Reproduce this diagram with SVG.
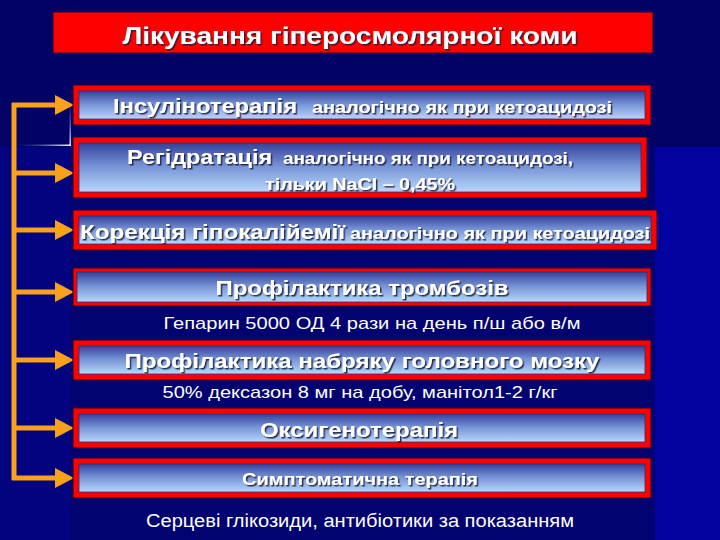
<svg xmlns="http://www.w3.org/2000/svg" width="720" height="540" viewBox="0 0 720 540">
<defs>
<linearGradient id="g" x1="0" y1="0" x2="0" y2="1">
<stop offset="0" stop-color="#34409c"/>
<stop offset="0.45" stop-color="#7390d4"/>
<stop offset="1" stop-color="#b8d6fc"/>
</linearGradient>
<linearGradient id="hl" x1="0" y1="0" x2="1" y2="0">
<stop offset="0" stop-color="#3050c0" stop-opacity="0"/>
<stop offset="1" stop-color="#ffffff"/>
</linearGradient>
<linearGradient id="vl" x1="0" y1="0" x2="0" y2="1">
<stop offset="0" stop-color="#3050c0" stop-opacity="0"/>
<stop offset="1" stop-color="#e0e8ff"/>
</linearGradient>
<filter id="sh" x="-5%" y="-30%" width="110%" height="160%">
<feDropShadow dx="1.5" dy="1.5" stdDeviation="0.4" flood-color="#1a1a3a" flood-opacity="0.9"/>
</filter>
<marker id="ah" markerUnits="userSpaceOnUse" markerWidth="20" markerHeight="20" viewBox="0 0 20 20" refX="2" refY="10" orient="auto">
<path d="M0,0 L19,10 L0,20 Z" fill="#f7a11c"/>
</marker>
<style>
.red{fill:#ff0000;stroke:#200030;stroke-width:1}
.in{fill:url(#g);stroke:#283070;stroke-width:0.8}
.t{font-family:"Liberation Sans",Arial,sans-serif;font-weight:bold;fill:#ffffff;filter:url(#sh)}
.n{font-family:"Liberation Sans",Arial,sans-serif;fill:#ffffff}
.c{stroke:#f7a11c;stroke-width:5;fill:none}
</style>
</defs>
<rect x="0" y="0" width="720" height="540" fill="#020266"/>
<rect x="0" y="147" width="720" height="393" fill="#0202a0"/>
<rect x="0" y="147" width="70" height="393" fill="#030380"/>
<rect x="70" y="147" width="585" height="393" fill="#020270"/>
<rect x="15" y="144.5" width="56" height="1.5" fill="url(#hl)"/>
<rect x="69.5" y="98" width="1.5" height="48" fill="url(#vl)"/>

<g id="title">
<rect x="53" y="12" width="600" height="41" class="red"/>
<text x="350" y="44" text-anchor="middle" class="t" font-size="24" textLength="455" lengthAdjust="spacingAndGlyphs">Лікування гіперосмолярної коми</text>
</g>

<g id="connectors">
<path class="c" d="M14,103 V480"/>
<path class="c" d="M12,105 H57" marker-end="url(#ah)"/>
<path class="c" d="M14,173 H57" marker-end="url(#ah)"/>
<path class="c" d="M14,230 H57" marker-end="url(#ah)"/>
<path class="c" d="M14,292 H57" marker-end="url(#ah)"/>
<path class="c" d="M14,360 H57" marker-end="url(#ah)"/>
<path class="c" d="M14,428 H57" marker-end="url(#ah)"/>
<path class="c" d="M12,478 H57" marker-end="url(#ah)"/>
</g>

<g id="box1">
<rect x="73" y="85" width="578" height="40" class="red"/>
<rect x="79" y="91" width="566" height="28" class="in"/>
<text y="113" class="t"><tspan x="113" font-size="20" textLength="184" lengthAdjust="spacingAndGlyphs">Інсулінотерапія</tspan><tspan x="312" font-size="16" textLength="300" lengthAdjust="spacingAndGlyphs">аналогічно як при кетоацидозі</tspan></text>
</g>

<g id="box2">
<rect x="73" y="137" width="574" height="61" class="red"/>
<rect x="79" y="143" width="562" height="49" class="in"/>
<text y="164" class="t"><tspan x="127" font-size="20" textLength="145" lengthAdjust="spacingAndGlyphs">Регідратація</tspan><tspan x="283" font-size="16" textLength="290" lengthAdjust="spacingAndGlyphs">аналогічно як при кетоацидозі,</tspan></text>
<text x="360" y="190" text-anchor="middle" class="t" font-size="16" textLength="190" lengthAdjust="spacingAndGlyphs">тільки NaCl – 0,45%</text>
</g>

<g id="box3">
<rect x="73" y="210" width="584" height="40" class="red"/>
<rect x="79" y="216" width="572" height="28" class="in"/>
<text y="239" class="t"><tspan x="80" font-size="20" textLength="265" lengthAdjust="spacingAndGlyphs">Корекція гіпокалійемії</tspan><tspan x="350" font-size="16" textLength="300" lengthAdjust="spacingAndGlyphs">аналогічно як при кетоацидозі</tspan></text>
</g>

<g id="box4">
<rect x="73" y="268" width="578" height="38" class="red"/>
<rect x="77" y="272" width="570" height="30" class="in"/>
<text x="362" y="295" text-anchor="middle" class="t" font-size="20" textLength="293" lengthAdjust="spacingAndGlyphs">Профілактика тромбозів</text>
</g>
<text x="372" y="329" text-anchor="middle" class="n" font-size="17" textLength="417" lengthAdjust="spacingAndGlyphs">Гепарин 5000 ОД 4 рази на день п/ш або в/м</text>

<g id="box5">
<rect x="73" y="340" width="578" height="40" class="red"/>
<rect x="79" y="346" width="566" height="28" class="in"/>
<text x="362" y="368" text-anchor="middle" class="t" font-size="20" textLength="475" lengthAdjust="spacingAndGlyphs">Профілактика набряку головного мозку</text>
</g>
<text x="360" y="398" text-anchor="middle" class="n" font-size="17" textLength="395" lengthAdjust="spacingAndGlyphs">50% дексазон 8 мг на добу, манітол1-2 г/кг</text>

<g id="box6">
<rect x="73" y="408" width="578" height="40" class="red"/>
<rect x="79" y="414" width="566" height="28" class="in"/>
<text x="359" y="437" text-anchor="middle" class="t" font-size="20" textLength="198" lengthAdjust="spacingAndGlyphs">Оксигенотерапія</text>
</g>

<g id="box7">
<rect x="73" y="458" width="578" height="40" class="red"/>
<rect x="79" y="464" width="566" height="28" class="in"/>
<text x="360" y="485" text-anchor="middle" class="t" font-size="17" textLength="236" lengthAdjust="spacingAndGlyphs">Симптоматична терапія</text>
</g>
<text x="360" y="527" text-anchor="middle" class="n" font-size="18" textLength="428" lengthAdjust="spacingAndGlyphs">Серцеві глікозиди, антибіотики за показанням</text>
</svg>
